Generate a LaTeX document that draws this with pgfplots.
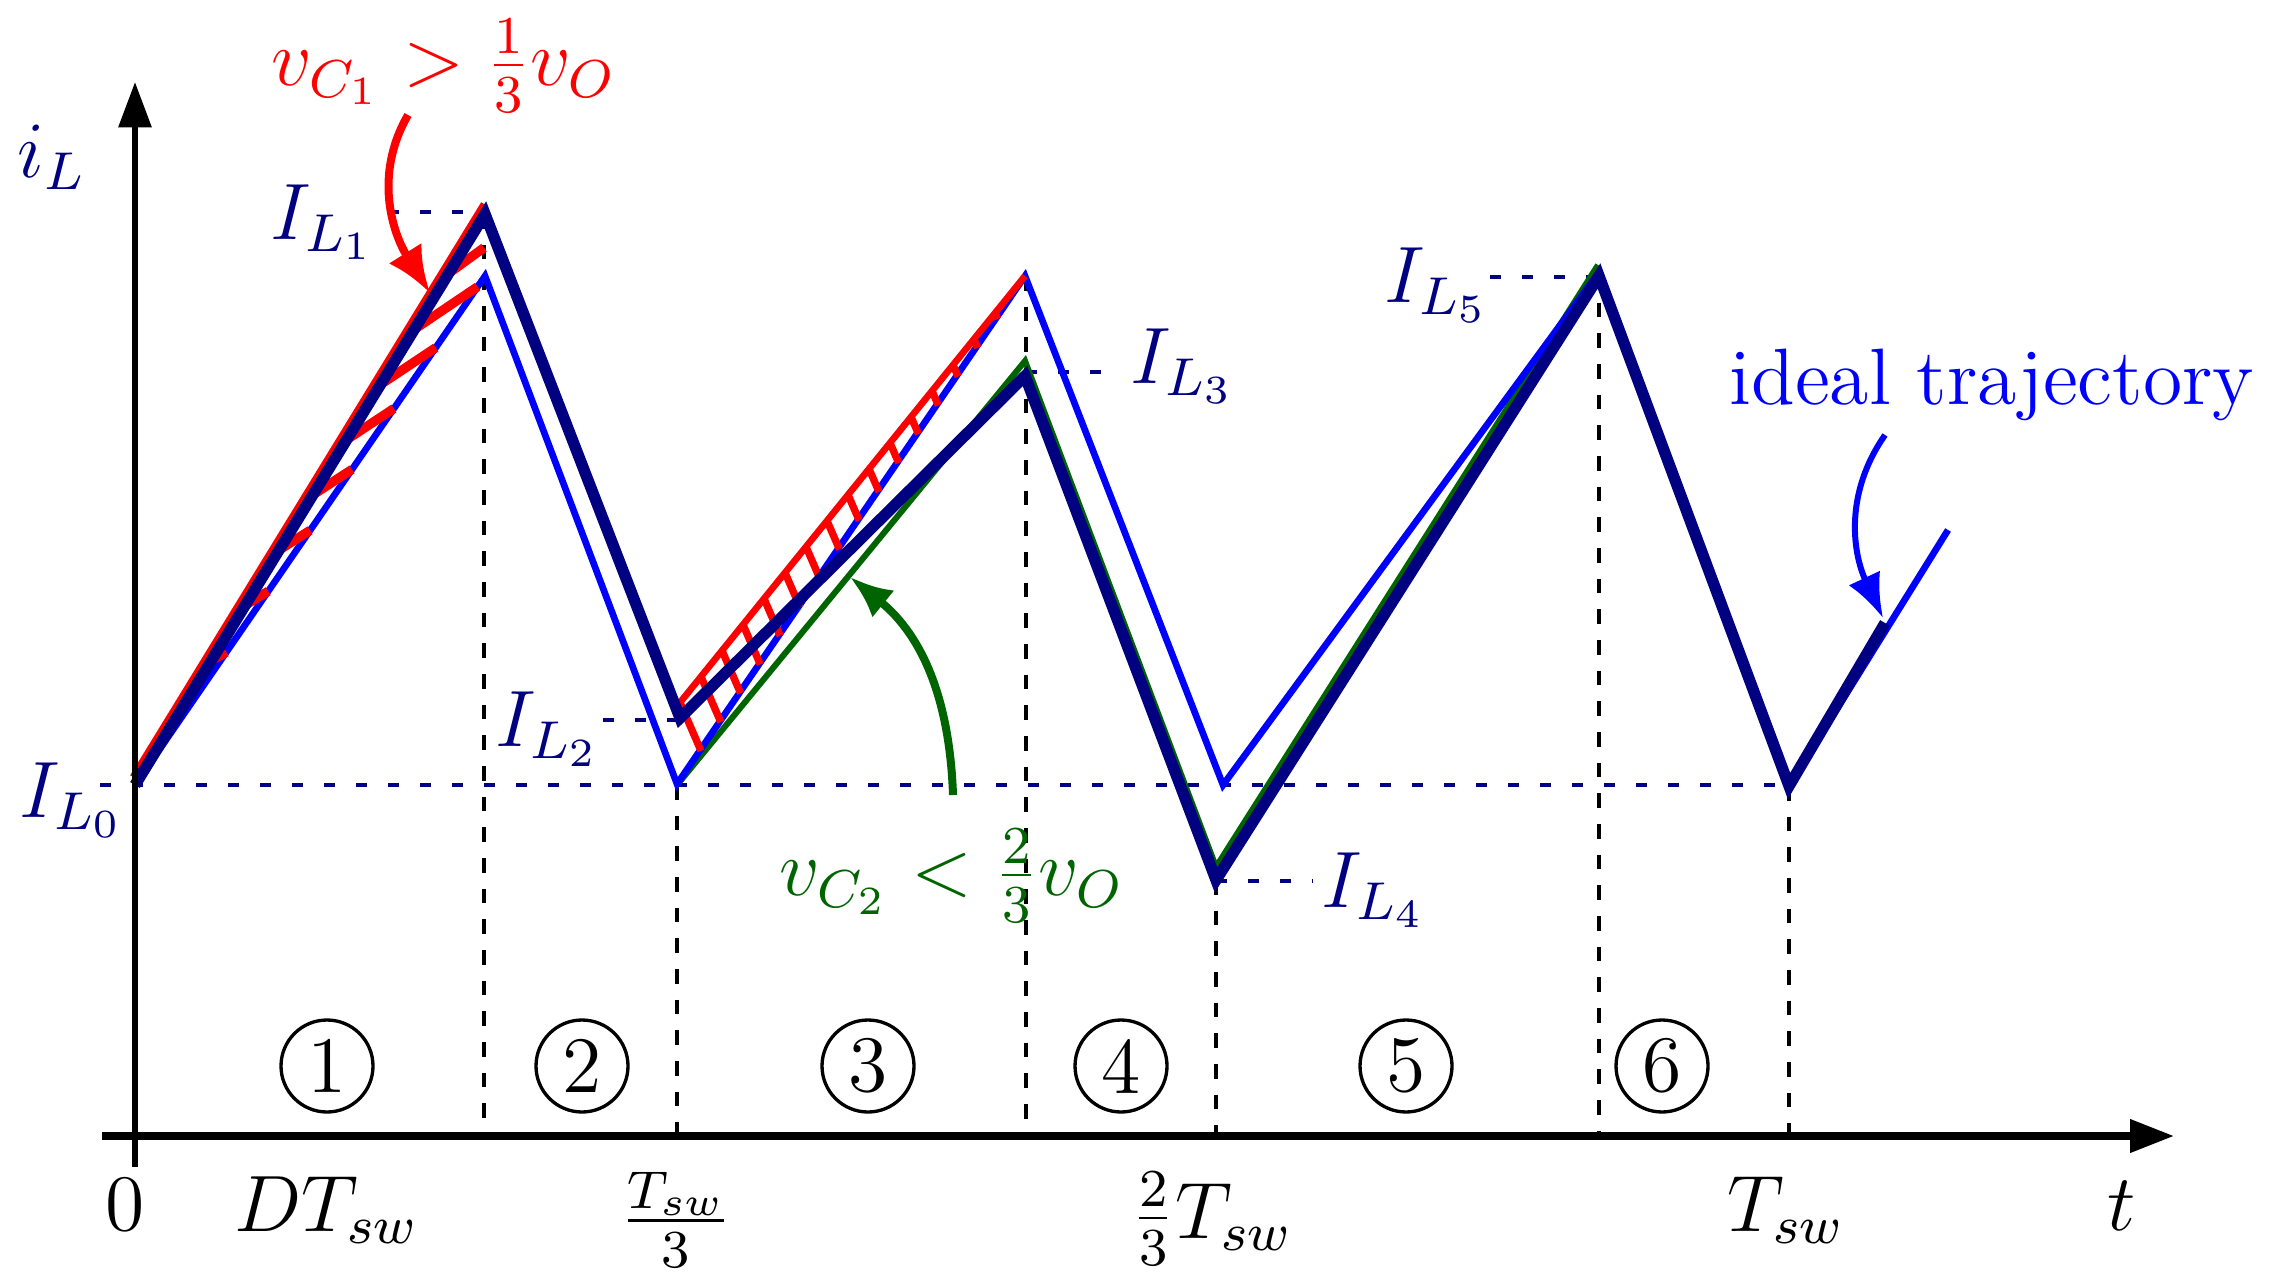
\documentclass[border=0pt]{standalone}
\usepackage{pgfplots}
\pgfplotsset{compat=1.18}
\usetikzlibrary{arrows.meta}
\definecolor{navyb}{RGB}{0,0,128}
\definecolor{idealb}{RGB}{0,0,255}
\definecolor{dgreen}{RGB}{0,100,0}

\begin{document}
\begin{tikzpicture}[every node/.append style={font=\fontsize{12}{14}\selectfont, inner sep=0pt},
  phase/.style={circle, draw, line width=0.5pt, inner sep=0pt, minimum size=13.8pt}]
\begin{axis}[
  width=342pt, height=192.3pt, scale only axis,
  xmin=0, xmax=2280, ymin=0, ymax=1282, y dir=reverse,
  hide axis, clip=false,
  unbounded coords=jump,
]
\path (rel axis cs:0,0) rectangle (rel axis cs:1,1);

% vertical guides
\addplot[black, line width=0.7pt, dash pattern=on 2.2pt off 2.4pt] coordinates {
 (484,214) (484,1136) (nan,nan)
 (677,785) (677,1136) (nan,nan)
 (1026,276) (1026,1136) (nan,nan)
 (1216,880) (1216,1136) (nan,nan)
 (1599,272) (1599,1136) (nan,nan)
 (1789,786) (1789,1136)};

% current levels
\addplot[navyb, line width=0.6pt, dash pattern=on 1.7pt off 3.1pt] coordinates {
 (100,785) (1789,785) (nan,nan)
 (388,212) (484,212) (nan,nan)
 (603,720) (680,720) (nan,nan)
 (1026,372) (1120,372) (nan,nan)
 (1216,881) (1313,881) (nan,nan)
 (1490,277) (1599,277)};

% v_C2 < 2/3 v_O
\addplot[dgreen, line width=0.9pt] coordinates {
 (677,785) (1025,361) (1216,867) (1598,265)};

% ideal trajectory
\addplot[idealb, line width=1.0pt] coordinates {
 (135,785) (485,276) (677,784) (1025,276) (1223,785) (1599,272) (1789,786) (1948,530)};

% v_C1 > 1/3 v_O
\addplot[red, line width=1.0pt] coordinates {
 (133,777) (484,204) (nan,nan)
 (678,705) (1025,276)};

% hatching, phase 1
\addplot[red, line width=1.4pt] coordinates {
 (207,663.0) (226.4,652.1) (nan,nan)
 (240,608.4) (268.2,591.2) (nan,nan)
 (273,553.9) (310.1,530.3) (nan,nan)
 (306,499.3) (352.0,469.4) (nan,nan)
 (339,444.8) (393.9,408.5) (nan,nan)
 (372,390.2) (435.8,347.6) (nan,nan)
 (405,335.7) (477.6,286.7) (nan,nan)
 (438,281.1) (484,247.7)};

% hatching, phase 3
\addplot[red, line width=1.1pt] coordinates {
 (680,702.5) (701.0,750.9) (nan,nan)
 (701,676.6) (720.8,722.2) (nan,nan)
 (722,650.6) (740.6,693.3) (nan,nan)
 (743,624.6) (760.3,664.5) (nan,nan)
 (764,598.7) (780.1,635.8) (nan,nan)
 (785,572.7) (799.9,606.9) (nan,nan)
 (806,546.8) (819.7,578.2) (nan,nan)
 (827,520.8) (839.4,549.3) (nan,nan)
 (848,494.8) (859.2,520.5) (nan,nan)
 (869,468.9) (879.0,491.8) (nan,nan)
 (890,442.9) (898.7,463.0) (nan,nan)
 (911,416.9) (918.5,434.1) (nan,nan)
 (932,391.0) (938.3,405.4) (nan,nan)
 (953,365.0) (958.0,376.5) (nan,nan)
 (974,339.1) (977.8,347.8) (nan,nan)
 (995,313.1) (997.6,319.0)};

% actual inductor current
\addplot[navyb, line width=1.7pt] coordinates {
 (135,785) (485,214) (680,718) (1025,376) (1216,880) (1599,276) (1789,786) (1885,623)};

% axes
\addplot[black, line width=1.1pt, -{Triangle[length=6.6pt,width=4.8pt]}] coordinates {(102,1136) (2174,1136)};
\addplot[black, line width=0.9pt, -{Triangle[length=6.8pt,width=4.8pt]}] coordinates {(135,1167) (135,82)};

% annotation arrows
\draw[red, line width=1.2pt, -{Latex[length=7pt,width=5.8pt]}] (axis cs:408,115) to[out=240,in=122] (axis cs:430,293);
\draw[dgreen, line width=1.2pt, -{Latex[length=6.4pt,width=5.2pt]}] (axis cs:953,795) to[out=92,in=-39] (axis cs:850,577);
\draw[idealb, line width=0.9pt, -{Latex[length=6.6pt,width=5.2pt]}] (axis cs:1885,435) to[out=235,in=115] (axis cs:1883,618);

% labels
\node[navyb] at (axis cs:52,157) {$i_L$};
\node[navyb] at (axis cs:72,800) {$I_{L_0}$};
\node[navyb] at (axis cs:323,222) {$I_{L_1}$};
\node[navyb] at (axis cs:548,729) {$I_{L_2}$};
\node[navyb] at (axis cs:1183,366) {$I_{L_3}$};
\node[navyb] at (axis cs:1374,890) {$I_{L_4}$};
\node[navyb] at (axis cs:1437,285) {$I_{L_5}$};
\node[red] at (axis cs:444,66) {$v_{C_1} > \frac{1}{3} v_O$};
\node[dgreen] at (axis cs:952,876) {$v_{C_2} < \frac{2}{3} v_O$};
\node[idealb] at (axis cs:1992,385) {ideal trajectory};

\node at (axis cs:125,1205) {$0$};
\node at (axis cs:327,1210) {$DT_{sw}$};
\node at (axis cs:676,1220) {$\frac{T_{sw}}{3}$};
\node at (axis cs:1212,1219) {$\frac{2}{3}T_{sw}$};
\node at (axis cs:1786,1210) {$T_{sw}$};
\node at (axis cs:2122,1206) {$t$};

\node[phase] at (axis cs:327,1066) {1};
\node[phase] at (axis cs:582,1066) {2};
\node[phase] at (axis cs:868,1066) {3};
\node[phase] at (axis cs:1121,1066) {4};
\node[phase] at (axis cs:1406,1066) {5};
\node[phase] at (axis cs:1662,1066) {6};
\end{axis}
\end{tikzpicture}
\end{document}
